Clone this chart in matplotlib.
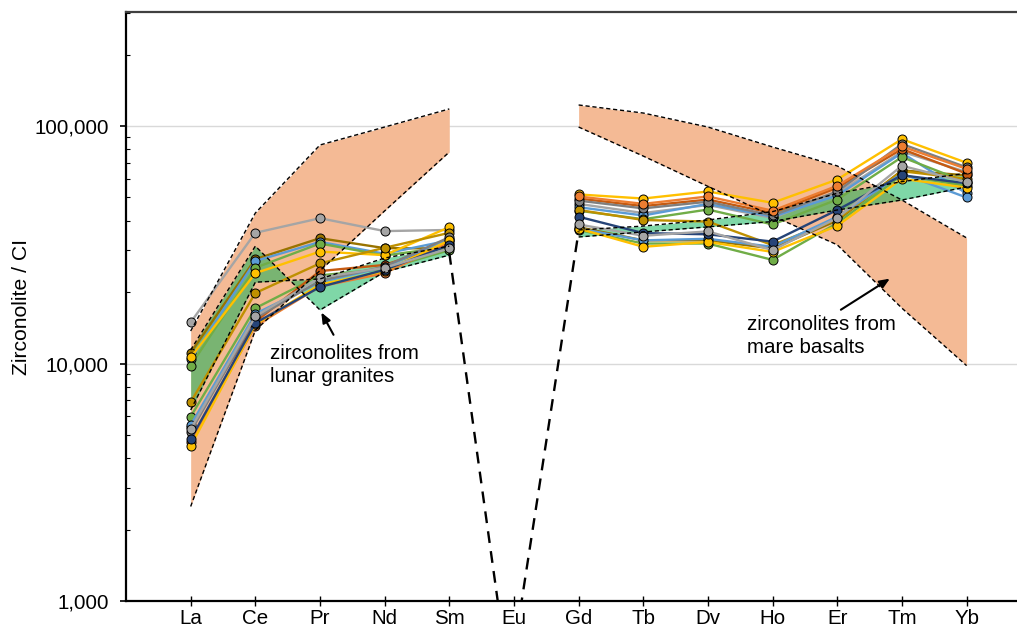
import numpy as np
import matplotlib.pyplot as plt
from matplotlib.ticker import FuncFormatter, LogLocator, NullFormatter

plt.rcParams['font.family'] = ['Liberation Sans', 'DejaVu Sans']

ree = ['La', 'Ce', 'Pr', 'Nd', 'Sm', 'Eu', 'Gd', 'Tb', 'Dv', 'Ho', 'Er', 'Tm', 'Yb']
lree_idx = [0, 1, 2, 3, 4]
hree_idx = [6, 7, 8, 9, 10, 11, 12]

# zirconolite analyses (CI normalised), light REE La-Sm and heavy REE Gd-Yb
colors = ['#A5A5A5', '#997300', '#5B9BD5', '#70AD47', '#FFC000', '#BF9000', '#70AD47',
          '#C55A11', '#5B9BD5', '#7F7F7F', '#ED7D31', '#FFC000', '#264478', '#A5A5A5']
lree = [
    [14900, 35500, 40900, 36100, 36500],
    [11100, 27500, 33700, 30600, 30500],
    [10400, 27000, 32500, 29000, 33000],
    [9800, 25300, 32000, 28500, 31000],
    [10600, 24000, 29600, 28600, 37500],
    [6870, 19800, 26400, 30700, 35500],
    [5970, 17100, 23500, 25000, 30000],
    [5400, 15000, 24500, 26000, 32000],
    [5500, 16200, 22000, 25500, 33500],
    [5160, 15500, 22300, 25600, 34000],
    [4660, 14400, 21100, 24000, 32500],
    [4490, 14600, 21500, 24500, 33000],
    [4800, 14800, 21000, 24800, 31500],
    [5300, 15800, 23000, 25300, 30500],
]
hree = [
    [47000, 43000, 46500, 41000, 52000, 78000, 64000],
    [37500, 33000, 33000, 30500, 40000, 65000, 62000],
    [45500, 42000, 47000, 41500, 51000, 77000, 52000],
    [44000, 40500, 44500, 38500, 49000, 74000, 58000],
    [51500, 49500, 53000, 47500, 59500, 88000, 70000],
    [44300, 40200, 39600, 31500, 40500, 64500, 60000],
    [36500, 32000, 32000, 27300, 39000, 62000, 56000],
    [49500, 46000, 49000, 43000, 55000, 80000, 63000],
    [37000, 33000, 33500, 31000, 41500, 63000, 50000],
    [48500, 45000, 48000, 42000, 53000, 84000, 67000],
    [50500, 47000, 50500, 44000, 56000, 82000, 66000],
    [37000, 31000, 32500, 29500, 38000, 60000, 55000],
    [41500, 35400, 35000, 32600, 44300, 62000, 57400],
    [38500, 34500, 36000, 30000, 41000, 68000, 58000],
]

# fields: mare basalt zirconolites (orange) and lunar granite zirconolites (green)
mare_l_hi = [13700, 43000, 83200, 99000, 118000]
mare_l_lo = [2500, 13800, 24600, 43900, 77700]
mare_r_hi = [122600, 113400, 99000, 81600, 67900, 48800, 33800]
mare_r_lo = [99000, 74700, 55700, 41800, 31600, 17100, 9800]
gran_l_a = [11400, 31200, 16800, 24300, 28600]
gran_l_b = [6370, 22000, 22700, 27800, 31200]
gran_r_a = [36500, 37900, 40200, 43600, 52100, 58300, 63200]
gran_r_b = [34100, 35800, 37600, 39600, 44300, 48800, 55400]
# Eu anomaly of the granite field
eu_left = [29200, 323]
eu_right = [616, 36000]

fig = plt.figure(figsize=(10.17, 6.28), dpi=100)
ax = fig.add_axes([126 / 1017, 27 / 628, 891 / 1017, 589 / 628])

orange = '#F4BA95'
ax.fill_between(lree_idx, mare_l_lo, mare_l_hi, color=orange, lw=0, zorder=1)
ax.fill_between(hree_idx, mare_r_lo, mare_r_hi, color=orange, lw=0, zorder=1)
ax.fill_between(lree_idx, gran_l_b, gran_l_a, color='#00B050', alpha=0.5, lw=0, zorder=2)
ax.fill_between(hree_idx, gran_r_b, gran_r_a, color='#00B050', alpha=0.5, lw=0, zorder=2)

for c, lv, hv in zip(colors, lree, hree):
    for xs, ys in ((lree_idx, lv), (hree_idx, hv)):
        ax.plot(xs, ys, color=c, lw=1.7, marker='o', ms=6.5, mfc=c,
                mec='black', mew=0.7, zorder=3)

dash = dict(color='black', lw=1.0, ls=(0, (3, 2)), zorder=4)
for xs, ys in ((lree_idx, mare_l_hi), (lree_idx, mare_l_lo), (hree_idx, mare_r_hi),
               (hree_idx, mare_r_lo), (lree_idx, gran_l_a), (lree_idx, gran_l_b),
               (hree_idx, gran_r_a), (hree_idx, gran_r_b)):
    ax.plot(xs, ys, **dash)
ax.plot([4, 5], eu_left, color='black', lw=1.7, ls=(0, (5, 3.5)), zorder=4)
ax.plot([5, 6], eu_right, color='black', lw=1.7, ls=(0, (5, 3.5)), zorder=4)

ax.set_yscale('log')
ax.set_ylim(1000, 302000)
ax.set_xlim(-1, 12.78)
ax.set_xticks(range(len(ree)))
ax.set_xticklabels(ree)
ax.yaxis.set_major_locator(LogLocator(base=10, numticks=10))
ax.yaxis.set_minor_locator(LogLocator(base=10, subs=np.arange(2, 10), numticks=10))
ax.yaxis.set_major_formatter(FuncFormatter(lambda v, p: f'{v:,.0f}'))
ax.yaxis.set_minor_formatter(NullFormatter())
ax.grid(axis='y', which='major', color='#D9D9D9', lw=1.0, zorder=0)
ax.set_axisbelow(True)

ax.tick_params(axis='y', which='major', direction='out', length=4.5, width=1.2,
               labelsize=14.8, pad=8)
ax.tick_params(axis='y', which='minor', direction='in', length=3, width=0.8)
ax.tick_params(axis='x', which='major', direction='inout', length=7, width=1.0,
               labelsize=14.8, pad=2)

for s in ('left', 'bottom'):
    ax.spines[s].set_linewidth(1.6)
    ax.spines[s].set_color('black')
ax.spines['top'].set_linewidth(1.6)
ax.spines['top'].set_color('#404040')
ax.spines['right'].set_visible(False)

fig.text(22 / 1017, 1 - 307 / 628, 'Zirconolite / CI', rotation=90,
         ha='center', va='center', fontsize=15.2)

arrow = dict(arrowstyle='-|>,head_length=0.6,head_width=0.25', color='black', lw=1.5)
ax.annotate('', xy=(2, 16800), xytext=(2.23, 12900), arrowprops=arrow, zorder=5)
ax.text(1.23, 9860, 'zirconolites from\nlunar granites', fontsize=14.8,
        ha='left', va='center', linespacing=1.3, zorder=5)
ax.annotate('', xy=(10.85, 23100), xytext=(10.02, 16600), arrowprops=arrow, zorder=5)
ax.text(8.6, 13060, 'zirconolites from\nmare basalts', fontsize=14.8,
        ha='left', va='center', linespacing=1.3, zorder=5)

fig.savefig('out.png', dpi=100)
